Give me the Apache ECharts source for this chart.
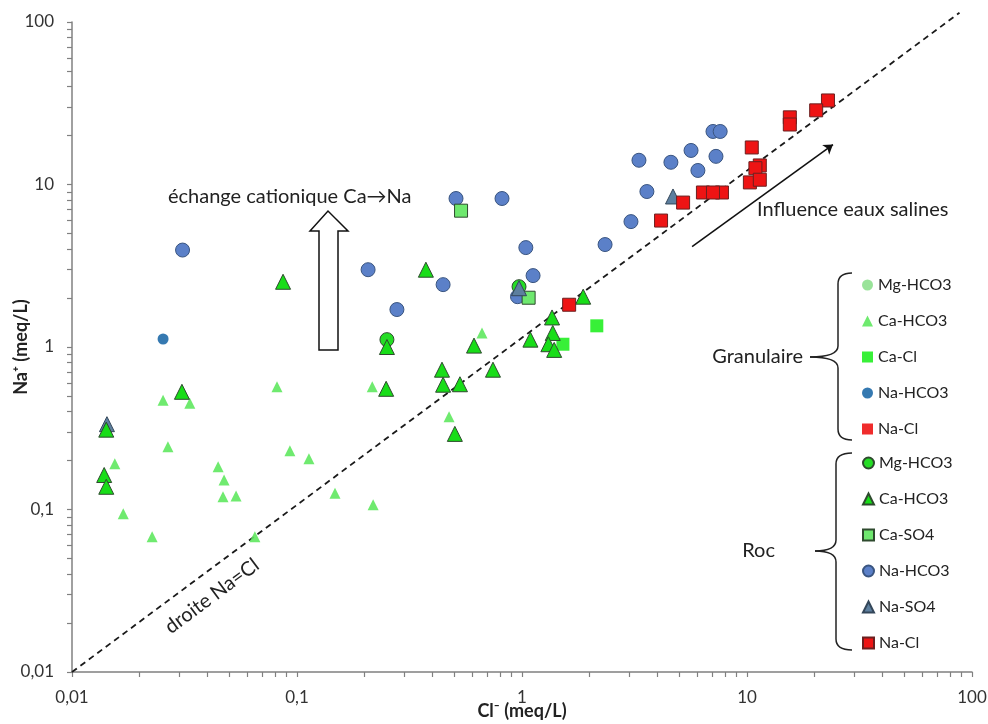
<!DOCTYPE html>
<html>
<head>
<meta charset="utf-8">
<script src="https://cdn.jsdelivr.net/npm/echarts@6/dist/echarts.min.js"></script>
<style>
  html, body { margin: 0; padding: 0; background: #ffffff; }
  #chart { width: 988px; height: 724px; }
</style>
</head>
<body>
<div id="chart"></div>
<script>
// Axis decades and their labels (French decimal comma)
const majorTicks = [0.01, 0.1, 1, 10, 100];
const tickLabels = ['0,01', '0,1', '1', '10', '100'];

// Samples: [Cl- (meq/L), Na+ (meq/L)]
// Granulaire aquifer
const granMgHCO3 = [];
const granCaHCO3 = [
  [0.0254, 0.47], [0.0334, 0.45], [0.0815, 0.57], [0.0267, 0.243], [0.0155, 0.191],
  [0.0446, 0.183], [0.0474, 0.152], [0.0469, 0.12], [0.0536, 0.121], [0.093, 0.23],
  [0.113, 0.205], [0.0169, 0.094], [0.0227, 0.068], [0.065, 0.068], [0.1475, 0.126],
  [0.218, 0.107], [0.216, 0.57], [0.474, 0.372], [0.664, 1.22]
];
const granCaCl = [[1.52, 1.04], [2.15, 1.35]];
const granNaHCO3 = [[0.0254, 1.12]];
const granNaCl = [];

// Roc aquifer
const rocMgHCO3 = [[0.251, 1.11], [0.97, 2.35]];
const rocCaHCO3 = [
  [0.0867, 2.52], [0.0308, 0.53], [0.0142, 0.31], [0.0139, 0.163], [0.0142, 0.138],
  [0.374, 2.99], [0.251, 1.0], [0.249, 0.553], [0.441, 0.725], [0.446, 0.586],
  [0.53, 0.59], [0.503, 0.292], [0.612, 1.02], [0.743, 0.725], [1.09, 1.11],
  [1.36, 1.52], [1.37, 1.22], [1.31, 1.04], [1.39, 0.96], [1.87, 2.04]
];
const rocCaSO4 = [[0.536, 6.9], [1.07, 2.01]];
const rocNaHCO3 = [
  [0.031, 3.95], [0.207, 2.99], [0.446, 2.42], [0.278, 1.70], [0.509, 8.2],
  [0.815, 8.2], [1.04, 4.09], [1.12, 2.75], [0.955, 2.04], [2.34, 4.27],
  [3.05, 5.91], [3.59, 9.05], [3.31, 14.1], [4.59, 13.7], [6.05, 12.2],
  [5.64, 16.2], [7.28, 14.9], [7.06, 21.2], [7.6, 21.2]
];
const rocNaSO4 = [[0.0143, 0.335], [0.97, 2.3], [4.69, 8.44]];
const rocNaCl = [
  [22.9, 32.9], [20.3, 28.6], [15.5, 25.9], [15.5, 23.4], [10.5, 16.9],
  [11.4, 13.1], [10.9, 12.6], [10.3, 10.3], [11.4, 10.7], [6.37, 8.93],
  [7.74, 8.93], [7.06, 8.93], [5.2, 7.74], [4.15, 6.0], [1.62, 1.82]
];

// Na = Cl reference line and the "saline" trend arrow, in data units
const naClLine = [[0.01, 0.01], [88, 114]];
const salineArrow = [[5.7, 4.15], [24.1, 17.6]];

// Tick marks at every 1..9 x 10^k step of the log axes
const tickValues = [];
for (let e = -2; e < 2; e++) {
  for (let m = 1; m < 10; m++) tickValues.push(+(m * Math.pow(10, e)).toPrecision(3));
}
tickValues.push(100);

const FONT = 'Lato, "Open Sans", sans-serif';
const AXIS_GREY = '#808080';
const DARK_EDGE = '#2e4a2e';

function decadeLabel(v) {
  const i = Math.round(Math.log10(v)) + 2;
  return tickLabels[i] !== undefined ? tickLabels[i] : '';
}

function logAxis(extra) {
  return Object.assign({
    type: 'log',
    logBase: 10,
    min: 0.01,
    max: 100,
    nameLocation: 'middle',
    nameMoveOverlap: false,
    splitLine: { show: false },
    minorTick: { show: false },
    axisLine: { show: true, onZero: false, lineStyle: { color: AXIS_GREY, width: 1.5 } },
    axisTick: { show: true, inside: false, length: 5, customValues: tickValues,
                lineStyle: { color: AXIS_GREY, width: 1.2 } }
  }, extra);
}

function scatter(name, data, symbol, size, color, border) {
  return {
    name: name,
    type: 'scatter',
    data: data,
    symbol: symbol,
    symbolSize: size,
    itemStyle: border
      ? { color: color, borderColor: border, borderWidth: 1, opacity: 1 }
      : { color: color, borderWidth: 0, opacity: 0.9 },
    emphasis: { disabled: true }
  };
}

const granNames = ['Granulaire Mg-HCO3', 'Granulaire Ca-HCO3', 'Granulaire Ca-Cl',
                   'Granulaire Na-HCO3', 'Granulaire Na-Cl'];
const rocNames = ['Roc Mg-HCO3', 'Roc Ca-HCO3', 'Roc Ca-SO4', 'Roc Na-HCO3',
                  'Roc Na-SO4', 'Roc Na-Cl'];

const legendBase = {
  orient: 'vertical',
  left: 857,
  itemWidth: 11,
  itemHeight: 11,
  itemGap: 20,
  selectedMode: false,
  formatter: n => n.replace(/^(Granulaire|Roc) /, ''),
  textStyle: { fontFamily: FONT, fontSize: 16, color: '#222' }
};

// Brace drawn from quarter curves and straight runs
function brace(xTip, xBar, xHook, yTop, yMid, yBot) {
  const st = { fill: 'none', stroke: '#222', lineWidth: 1.5 };
  const r = 11;
  return [
    { type: 'bezierCurve', z: 10, style: st,
      shape: { x1: xHook, y1: yTop, cpx1: xBar, cpy1: yTop, x2: xBar, y2: yTop + r } },
    { type: 'line', z: 10, style: st,
      shape: { x1: xBar, y1: yTop + r, x2: xBar, y2: yMid - r } },
    { type: 'bezierCurve', z: 10, style: st,
      shape: { x1: xBar, y1: yMid - r, cpx1: xBar, cpy1: yMid, x2: xTip, y2: yMid } },
    { type: 'bezierCurve', z: 10, style: st,
      shape: { x1: xTip, y1: yMid, cpx1: xBar, cpy1: yMid, x2: xBar, y2: yMid + r } },
    { type: 'line', z: 10, style: st,
      shape: { x1: xBar, y1: yMid + r, x2: xBar, y2: yBot - r } },
    { type: 'bezierCurve', z: 10, style: st,
      shape: { x1: xBar, y1: yBot - r, cpx1: xBar, cpy1: yBot, x2: xHook, y2: yBot } }
  ];
}

const chart = echarts.init(document.getElementById('chart'), null, { renderer: 'canvas' });

chart.setOption({
  animation: false,
  backgroundColor: '#ffffff',
  grid: { left: 72, right: 16, top: 22, bottom: 52, containLabel: false, outerBoundsMode: 'none' },
  xAxis: logAxis({
    name: 'Cl\u207B (meq/L)',
    nameGap: 30,
    nameTextStyle: { fontFamily: FONT, fontSize: 18, fontWeight: 'bold', color: '#222' },
    axisLabel: { customValues: majorTicks, formatter: decadeLabel, margin: 17,
                 fontFamily: FONT, fontSize: 17, color: '#333' }
  }),
  yAxis: logAxis({
    name: 'Na\u207A (meq/L)',
    nameGap: 42,
    nameTextStyle: { fontFamily: FONT, fontSize: 18, fontWeight: 'bold', color: '#222' },
    axisLabel: { customValues: majorTicks, formatter: decadeLabel, margin: 18,
                 fontFamily: FONT, fontSize: 17, color: '#333' }
  }),
  legend: [
    Object.assign({ data: granNames, top: 272 }, legendBase),
    Object.assign({ data: rocNames, top: 450 }, legendBase)
  ],
  series: [
    {
      name: 'droite Na=Cl',
      type: 'line',
      data: naClLine,
      showSymbol: false,
      clip: false,
      silent: true,
      z: 1,
      lineStyle: { color: '#1a1a1a', width: 1.8, type: [6, 4.5] }
    },
    {
      name: 'Influence eaux salines',
      type: 'lines',
      coordinateSystem: 'cartesian2d',
      silent: true,
      symbol: ['none', 'arrow'],
      symbolSize: 9,
      lineStyle: { color: '#111', width: 1.6, opacity: 1 },
      data: [{ coords: salineArrow }]
    },
    scatter(granNames[0], granMgHCO3, 'circle', 11, '#8ee08e', null),
    scatter(granNames[1], granCaHCO3, 'triangle', 11, '#5fe85f', null),
    scatter(granNames[2], granCaCl, 'rect', 13, '#22ee22', null),
    scatter(granNames[3], granNaHCO3, 'circle', 11, '#1f6aa8', null),
    scatter(granNames[4], granNaCl, 'rect', 11, '#ee1515', null),
    scatter(rocNames[3], rocNaHCO3, 'circle', 14, '#5b80c8', '#3a5580'),
    scatter(rocNames[0], rocMgHCO3, 'circle', 14, '#25dd25', DARK_EDGE),
    scatter(rocNames[2], rocCaSO4, 'rect', 13, '#6ee86e', DARK_EDGE),
    scatter(rocNames[4], rocNaSO4, 'triangle', 15, '#5d7f9e', '#34475a'),
    scatter(rocNames[1], rocCaHCO3, 'triangle', 15, '#18dd18', DARK_EDGE),
    scatter(rocNames[5], rocNaCl, 'rect', 13, '#ee1414', '#6a2020')
  ],
  graphic: [
    // hollow arrow: cation exchange Ca -> Na
    {
      type: 'polygon', z: 10,
      shape: { points: [[319, 350], [338, 350], [338, 231], [348, 231], [328, 211], [310, 231], [319, 231]] },
      style: { fill: '#ffffff', stroke: '#111', lineWidth: 1.5 }
    },
    {
      type: 'text', x: 168, y: 197, z: 10,
      style: { text: '\u00E9change cationique Ca\u2192Na', font: '20px ' + FONT, fill: '#222',
               verticalAlign: 'middle' }
    },
    {
      type: 'text', x: 757, y: 210, z: 10,
      style: { text: 'Influence eaux salines', font: '20px ' + FONT, fill: '#222',
               verticalAlign: 'middle' }
    },
    {
      type: 'text', x: 212, y: 596, rotation: 36.6 * Math.PI / 180, z: 10,
      style: { text: 'droite Na=Cl', font: '20px ' + FONT, fill: '#222',
               align: 'center', verticalAlign: 'middle' }
    },
    {
      type: 'text', x: 803, y: 357, z: 10,
      style: { text: 'Granulaire', font: '20px ' + FONT, fill: '#222',
               align: 'right', verticalAlign: 'middle' }
    },
    {
      type: 'text', x: 775, y: 551, z: 10,
      style: { text: 'Roc', font: '20px ' + FONT, fill: '#222',
               align: 'right', verticalAlign: 'middle' }
    }
  ].concat(brace(810, 838, 852, 273, 357, 440), brace(815, 836, 852, 453, 551, 650))
});
</script>
</body>
</html>
